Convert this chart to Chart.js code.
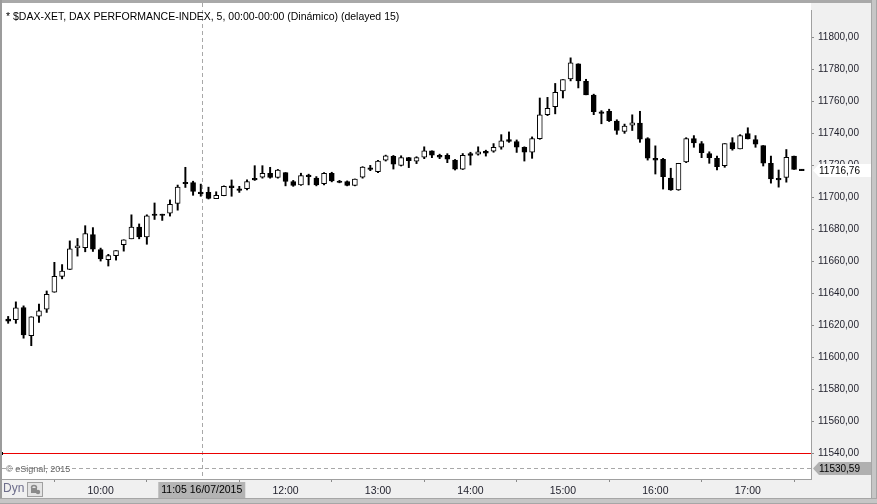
<!DOCTYPE html>
<html><head><meta charset="utf-8">
<script src="https://cdn.jsdelivr.net/npm/chart.js@4.4.0/dist/chart.umd.min.js"></script>
<style>html,body{margin:0;padding:0;background:#f0f0f0;overflow:hidden}</style>
</head><body><canvas id="c" width="877" height="504"></canvas>
<script>
// 5-minute candles, 09:00 .. 17:35 (16/07/2015)
const openV=[11624.0,11623.5,11631.2,11613.5,11625.8,11630.2,11640.7,11650.6,11654.9,11668.5,
11668.5,11676.7,11667.3,11661.1,11663.6,11670.4,11674.1,11681.5,11675.3,11689.5,
11689.5,11690.2,11696.3,11709.3,11709.3,11703.1,11703.1,11699.2,11701.0,11707.2,
11705.2,11705.4,11711.8,11712.6,11715.1,11712.4,11715.5,11709.9,11707.8,11713.8,
11712.0,11708.5,11715.1,11709.9,11709.9,11707.5,11712.6,11718.2,11716.1,11723.3,
11725.6,11720.0,11724.8,11722.7,11725.2,11729.1,11726.2,11726.2,11723.3,11717.7,
11727.3,11727.0,11728.7,11728.9,11731.3,11736.1,11734.9,11731.2,11728.2,11736.7,
11751.7,11756.7,11766.6,11774.0,11783.5,11772.6,11763.9,11753.4,11753.8,11747.7,
11741.2,11745.2,11746.4,11736.7,11724.4,11723.7,11712.0,11704.7,11722.1,11736.7,
11733.6,11727.4,11724.4,11719.8,11734.2,11730.3,11739.8,11736.1,11732.4,11721.3,
11711.8,11712.4,11725.8,11717.5];
const highV=[11625.6,11634.7,11632.2,11625.4,11633.3,11641.5,11659.4,11658.0,11672.8,11674.3,
11682.3,11681.1,11668.3,11664.4,11666.7,11673.5,11689.1,11683.4,11689.1,11696.5,
11689.5,11698.4,11707.7,11718.8,11710.1,11708.3,11706.4,11703.5,11707.2,11710.9,
11706.9,11710.9,11719.8,11719.8,11718.8,11717.5,11715.5,11710.6,11715.1,11714.5,
11713.0,11715.5,11715.7,11710.6,11710.3,11711.5,11719.2,11720.0,11723.1,11726.4,
11726.2,11726.0,11725.0,11725.4,11731.6,11729.1,11727.0,11727.3,11723.7,11727.4,
11728.2,11731.6,11729.5,11733.6,11739.2,11740.9,11735.9,11731.6,11737.8,11762.1,
11762.5,11771.2,11773.6,11787.2,11783.5,11773.8,11764.5,11754.2,11755.1,11748.5,
11745.8,11751.6,11753.8,11737.3,11732.2,11724.4,11718.2,11721.3,11737.3,11738.6,
11734.9,11728.5,11725.8,11733.6,11737.3,11739.2,11743.5,11738.6,11732.4,11725.8,
11717.1,11729.9,11725.8,11717.5];
const lowV=[11621.3,11621.3,11612.0,11607.3,11621.9,11628.1,11640.7,11649.1,11654.9,11663.3,
11666.0,11666.2,11660.2,11657.1,11660.8,11666.4,11674.1,11674.1,11670.7,11686.2,
11685.6,11688.3,11692.0,11706.2,11701.3,11700.7,11699.0,11699.2,11701.0,11700.7,
11703.1,11704.7,11710.6,11712.0,11712.0,11712.0,11707.2,11706.9,11707.5,11707.8,
11707.2,11707.8,11709.7,11709.1,11707.2,11707.2,11712.0,11716.7,11715.5,11722.7,
11717.7,11719.6,11718.6,11721.1,11724.2,11724.8,11724.2,11721.7,11717.1,11717.4,
11720.2,11726.4,11725.8,11728.2,11730.1,11734.4,11728.1,11722.7,11724.4,11736.3,
11751.1,11752.2,11762.1,11772.8,11768.4,11764.1,11751.7,11746.0,11747.4,11739.4,
11740.0,11741.8,11734.4,11723.3,11714.6,11705.2,11704.4,11704.4,11721.7,11731.3,
11724.8,11721.3,11717.1,11718.8,11729.5,11730.3,11736.5,11731.3,11719.6,11708.9,
11706.4,11709.5,11717.5,11716.76];
const closeV=[11622.7,11631.0,11614.1,11625.4,11629.1,11639.4,11650.6,11653.9,11667.9,11669.7,
11677.4,11667.6,11661.5,11663.6,11666.7,11673.5,11681.5,11675.3,11688.5,11688.7,
11688.7,11695.7,11706.4,11708.5,11703.8,11702.3,11699.4,11701.3,11706.9,11706.0,
11704.4,11709.9,11710.9,11715.1,11712.4,11717.1,11709.9,11707.5,11713.6,11713.0,
11707.8,11715.1,11710.3,11709.3,11707.5,11711.4,11719.0,11717.5,11722.7,11726.0,
11720.8,11724.8,11722.9,11724.8,11729.1,11726.4,11725.2,11723.9,11717.7,11726.2,
11726.2,11728.5,11727.6,11731.2,11735.3,11735.0,11731.3,11728.2,11736.7,11751.6,
11755.7,11765.6,11773.6,11784.1,11772.8,11764.1,11753.6,11752.4,11748.0,11741.8,
11744.6,11746.6,11736.3,11724.5,11723.3,11713.0,11704.7,11721.3,11736.7,11734.1,
11727.9,11724.8,11719.2,11733.6,11730.3,11738.6,11736.5,11733.2,11721.3,11711.5,
11710.9,11725.0,11717.5,11716.76];

const xTickIdx=[12,24,36,48,60,72,84,96];
const xTickLabels=['10:00','11:00','12:00','13:00','14:00','15:00','16:00','17:00'];
const yStep=20;
const titleText='* $DAX-XET, DAX PERFORMANCE-INDEX, 5, 00:00-00:00 (Dinámico) (delayed 15)';
const copyText='© eSignal, 2015';
const lastPrice=11716.76;
const refLevel=11530.59;
const redLevel=11540;
const cursorIdx=25;
const cursorLabel='11:05 16/07/2015';

const FONT="'Liberation Sans', Arial, sans-serif";
const fmt=v=>Number(v).toFixed(2).replace('.',',');

const idx=openV.map((_,i)=>i);
const bodyData=idx.map(i=>({x:i,y:[openV[i],closeV[i]]}));
const wickData=idx.map(i=>({x:i,y:[lowV[i],highV[i]]}));
const bodyFill=idx.map(i=>closeV[i]>=openV[i]?'#ffffff':'#000000');

const bgPlugin={id:'bg',beforeDraw(chart){
  const c=chart.ctx,a=chart.chartArea,W=chart.width,H=chart.height;
  c.save();
  c.fillStyle='#f0f0f0';c.fillRect(0,0,W,H);
  c.fillStyle='#ffffff';c.fillRect(a.left,3,a.right-a.left,a.bottom-3);
  c.fillStyle='#a9a9a9';c.fillRect(0,0,W,3);
  c.fillStyle='#9c9c9c';c.fillRect(0,0,2,H);
  c.fillStyle='#c6c6c6';c.fillRect(871,0,W-871,H);
  c.fillStyle='#a6a6a6';c.fillRect(871,0,1,H);c.fillRect(W-1,0,1,H);
  c.fillStyle='#c6c6c6';c.fillRect(0,498,W,H-498);
  c.fillStyle='#a6a6a6';c.fillRect(0,498,W,1);c.fillRect(0,H-1,W,1);
  c.restore();
},
beforeDatasetsDraw(chart){
  const c=chart.ctx,a=chart.chartArea,ys=chart.scales.y,xs=chart.scales.x;
  c.save();
  let y=Math.round(ys.getPixelForValue(refLevel))+0.5;
  c.strokeStyle='#a8a8a8';c.lineWidth=1;c.setLineDash([4,3]);
  c.beginPath();c.moveTo(a.left,y);c.lineTo(a.right,y);c.stroke();
  const x=Math.round(xs.getPixelForValue(cursorIdx))+1.5;
  c.beginPath();c.moveTo(x,3);c.lineTo(x,a.bottom);c.stroke();
  c.setLineDash([]);
  c.fillStyle='#000';c.font='10.5px '+FONT;c.textBaseline='middle';c.textAlign='left';
  c.fillText(titleText,6,17);
  c.fillStyle='#666';c.font='9px '+FONT;
  c.fillText(copyText,6,470);
  c.restore();
}};

function priceTag(c,y,fill,text){
  c.beginPath();
  c.moveTo(813,y);c.lineTo(819,y-6.5);c.lineTo(871,y-6.5);c.lineTo(871,y+6.5);c.lineTo(819,y+6.5);c.closePath();
  c.fillStyle=fill;c.fill();
  c.fillStyle='#000';c.font='10px '+FONT;c.textAlign='left';c.textBaseline='middle';
  c.fillText(text,819,y+0.5);
}

const overlayPlugin={id:'overlay',afterDraw(chart){
  const c=chart.ctx,a=chart.chartArea,ys=chart.scales.y,xs=chart.scales.x;
  c.save();
  const ry=Math.round(ys.getPixelForValue(redLevel));
  c.fillStyle='rgb(235,0,0)';c.fillRect(a.left+1,ry,a.right-a.left-1,1);
  c.fillStyle='#000';c.fillRect(a.left,ry-1,1,3);
  priceTag(c,ys.getPixelForValue(lastPrice),'#ffffff',fmt(lastPrice));
  priceTag(c,ys.getPixelForValue(refLevel),'#b0b0b0',fmt(refLevel));
  const cx=xs.getPixelForValue(cursorIdx)+1;
  c.fillStyle='#b4b4b4';c.fillRect(cx-43.5,482,87,16);
  c.fillStyle='#000';c.font='10.5px '+FONT;c.textAlign='center';c.textBaseline='middle';
  c.fillText(cursorLabel,cx,490.5);
  c.fillStyle='#6e6e8c';c.font='12px '+FONT;c.textAlign='left';
  c.fillText('Dyn',3,489);
  c.fillStyle='#e4e4e4';c.fillRect(27,482,16,15);
  c.strokeStyle='#a0a0a0';c.lineWidth=1;c.strokeRect(27.5,482.5,15,14);
  c.strokeStyle='#8a8a8a';c.lineWidth=1.5;
  c.beginPath();c.arc(34,488,2.5,Math.PI,0);c.stroke();
  c.fillStyle='#8a8a8a';c.fillRect(31,488,6,5);
  c.beginPath();c.arc(38,492,2.2,0,Math.PI*2);c.fill();
  c.restore();
}};

new Chart(document.getElementById('c').getContext('2d'),{
  type:'bar',
  data:{datasets:[
    {data:bodyData,order:0,grouped:false,barThickness:5,minBarLength:1.5,
     backgroundColor:bodyFill,borderColor:'#000',borderWidth:1,borderSkipped:false},
    {data:wickData,order:1,grouped:false,barThickness:1.3,backgroundColor:'#000',borderWidth:0}
  ]},
  options:{
    responsive:false,animation:false,devicePixelRatio:1,events:[],
    layout:{padding:{left:2,top:5,right:0,bottom:0}},
    plugins:{legend:{display:false},tooltip:{enabled:false},title:{display:false}},
    scales:{
      x:{type:'linear',min:-0.8,max:104.2,offset:false,
        afterFit(s){s.height=25;},
        afterBuildTicks(s){s.ticks=xTickIdx.map(v=>({value:v}));},
        ticks:{autoSkip:false,maxRotation:0,padding:3,color:'#1e1e2a',
          font:{family:FONT,size:10.5},
          callback:(v)=>{const k=xTickIdx.indexOf(v);return k>=0?xTickLabels[k]:'';}},
        grid:{drawOnChartArea:false,tickLength:3,color:'#8a8a8a'},
        border:{color:'#a0a0a0'}},
      y:{type:'linear',position:'right',min:11524.0,max:11817.1,
        afterFit(s){s.width=66;},
        ticks:{stepSize:yStep,includeBounds:false,padding:4,color:'#1e1e2a',
          font:{family:FONT,size:10},callback:v=>fmt(v)},
        grid:{drawOnChartArea:false,tickLength:3,color:'#8a8a8a'},
        border:{color:'#a0a0a0'}}
    }
  },
  plugins:[bgPlugin,overlayPlugin]
});
</script></body></html>
